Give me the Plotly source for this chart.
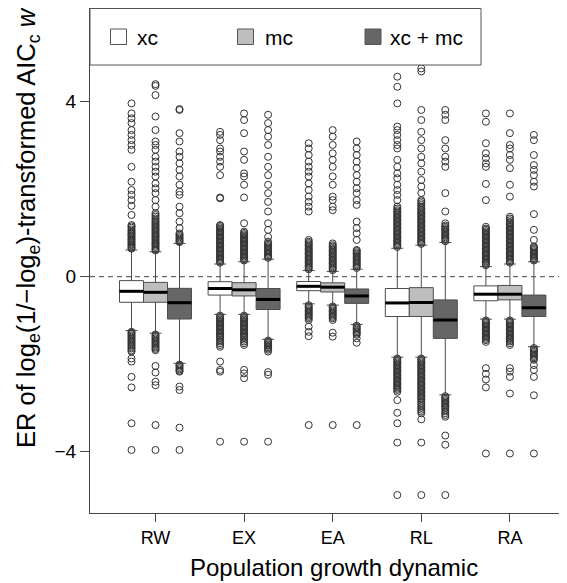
import plotly.graph_objects as go

# ---------------- data ----------------
categories = ["RW", "EX", "EA", "RL", "RA"]
series = ["xc", "mc", "xc + mc"]

xc_q1 = [-0.585, -0.42, -0.32, -0.91, -0.55]
xc_median = [-0.334, -0.27, -0.22, -0.60, -0.40]
xc_q3 = [-0.09, -0.114, -0.11, -0.27, -0.21]
xc_lower = [-1.23, -0.86, -0.62, -1.84, -0.97]
xc_upper = [0.61, 0.29, 0.14, 0.65, 0.23]

mc_q1 = [-0.585, -0.44, -0.35, -0.91, -0.53]
mc_median = [-0.357, -0.30, -0.24, -0.59, -0.40]
mc_q3 = [-0.13, -0.137, -0.14, -0.25, -0.20]
mc_lower = [-1.29, -0.86, -0.65, -1.84, -0.97]
mc_upper = [0.57, 0.34, 0.12, 0.72, 0.29]

xcmc_q1 = [-0.967, -0.75, -0.61, -1.41, -0.91]
xcmc_median = [-0.594, -0.52, -0.44, -0.99, -0.71]
xcmc_q3 = [-0.266, -0.27, -0.28, -0.53, -0.42]
xcmc_lower = [-1.98, -1.43, -1.09, -2.70, -1.60]
xcmc_upper = [0.76, 0.40, 0.17, 0.78, 0.34]

# outlying points, one list per category
xc_outliers = [
    [0.64, 0.66, 0.69, 0.72, 0.74, 0.77, 0.80, 0.83, 0.85, 0.88, 0.91, 0.94, 0.97, 0.99, 1.02, 1.05, 1.08,
     1.12, 1.15, 1.18,
     1.41, 1.62, 1.75, 1.87, 1.98, 2.17, 2.51, 2.90, 3.01, 3.12, 3.24, 3.35, 3.51, 3.62, 3.73, 3.96,
     -1.26, -1.28, -1.31, -1.34, -1.37, -1.40, -1.43, -1.46, -1.49, -1.52, -1.55, -1.58, -1.61, -1.64,
     -1.68, -1.71,
     -1.87, -1.94, -2.29, -2.53, -3.35, -3.96],
    [0.32, 0.35, 0.38, 0.41, 0.44, 0.47, 0.50, 0.53, 0.56, 0.59, 0.62, 0.65, 0.68, 0.71, 0.74, 0.77, 0.80,
     0.83, 0.86, 0.89, 0.92, 0.95, 0.98, 1.01, 1.04, 1.07, 1.10, 1.13, 1.16, 1.18,
     1.79, 1.81, 2.32, 2.51, 2.63, 2.74, 2.86, 2.93, 3.12, 3.24, 3.31,
     -0.89, -0.92, -0.95, -0.98, -1.01, -1.04, -1.07, -1.10, -1.13, -1.16, -1.19, -1.22, -1.25, -1.28,
     -1.31, -1.34, -1.37, -1.40, -1.44, -1.48, -1.52, -1.56, -1.60,
     -1.94, -2.13, -2.17, -3.77],
    [0.17, 0.20, 0.23, 0.26, 0.29, 0.32, 0.35, 0.38, 0.41, 0.44, 0.47, 0.50, 0.53, 0.56, 0.59, 0.62, 0.65,
     0.68, 0.71, 0.74, 0.77, 0.80, 0.84,
     1.49, 1.60, 1.71, 1.83, 1.98, 2.13, 2.29, 2.40, 2.51, 2.63, 2.78, 2.93, 3.05,
     -0.65, -0.68, -0.71, -0.74, -0.77, -0.80, -0.83, -0.86, -0.89, -0.92, -0.95, -0.99,
     -1.14, -1.26, -1.36, -3.39],
    [0.68, 0.71, 0.74, 0.77, 0.80, 0.83, 0.86, 0.89, 0.92, 0.95, 0.98, 1.01, 1.04, 1.07, 1.10, 1.13, 1.16,
     1.19, 1.22, 1.25, 1.28, 1.31, 1.34, 1.37, 1.40, 1.43, 1.46, 1.49, 1.52, 1.56, 1.60,
     1.75, 1.87, 1.98, 2.10, 2.25, 2.36, 2.51, 2.67, 2.93, 3.01, 3.12, 3.24, 3.35, 3.43, 3.96, 4.34, 4.57,
     -1.87, -1.90, -1.93, -1.96, -1.99, -2.02, -2.05, -2.08, -2.11, -2.14, -2.17, -2.20, -2.23, -2.26,
     -2.29, -2.32, -2.35, -2.38, -2.41, -2.44, -2.47, -2.50, -2.53, -2.56, -2.59, -2.63,
     -2.82, -3.11, -3.35, -3.79, -4.99],
    [0.26, 0.29, 0.32, 0.35, 0.38, 0.41, 0.44, 0.47, 0.50, 0.53, 0.56, 0.59, 0.62, 0.65, 0.68, 0.71, 0.74,
     0.77, 0.80, 0.83, 0.86, 0.89, 0.92, 0.95, 0.98, 1.01, 1.04, 1.07, 1.10, 1.14,
     1.75, 2.12, 2.51, 2.59, 2.71, 2.82, 3.05, 3.54, 3.73,
     -1.00, -1.03, -1.06, -1.09, -1.12, -1.15, -1.18, -1.21, -1.24, -1.27, -1.30, -1.33, -1.36, -1.39,
     -1.42, -1.45, -1.49,
     -2.09, -2.22, -2.35, -2.53, -4.04],
]

mc_outliers = [
    [0.60, 0.62, 0.65, 0.68, 0.71, 0.74, 0.76, 0.79, 0.82, 0.85, 0.88, 0.91, 0.93, 0.96, 0.99, 1.02, 1.05,
     1.08, 1.11, 1.14, 1.17, 1.20, 1.23, 1.26, 1.29, 1.33, 1.37, 1.41, 1.45,
     1.60, 1.75, 1.91, 2.02, 2.13, 2.29, 2.40, 2.51, 2.63, 2.74, 2.90, 3.01, 3.09, 3.35, 3.66, 4.15, 4.36, 4.40,
     -1.32, -1.35, -1.38, -1.41, -1.44, -1.47, -1.50, -1.53, -1.56, -1.59, -1.62, -1.65, -1.68,
     -2.04, -2.19, -2.40, -2.48, -3.39, -3.96],
    [0.37, 0.40, 0.43, 0.46, 0.49, 0.52, 0.55, 0.58, 0.61, 0.64, 0.67, 0.70, 0.73, 0.76, 0.79, 0.82, 0.85,
     0.88, 0.91, 0.94, 0.97, 1.00, 1.03,
     1.22, 1.81, 2.10, 2.29, 2.36, 2.67, 2.86, 3.28, 3.58, 3.73,
     -0.89, -0.92, -0.95, -0.98, -1.01, -1.04, -1.07, -1.10, -1.13, -1.16, -1.19, -1.22, -1.25, -1.28,
     -1.31, -1.34, -1.37, -1.40, -1.44, -1.48, -1.52, -1.56,
     -2.13, -2.21, -2.32, -3.77],
    [0.15, 0.18, 0.21, 0.24, 0.27, 0.30, 0.33, 0.36, 0.39, 0.42, 0.45, 0.48, 0.51, 0.54, 0.57, 0.60, 0.63,
     0.66, 0.69, 0.72, 0.76,
     1.52, 1.60, 1.75, 1.83, 2.10, 2.29, 2.51, 2.67, 2.82, 3.01, 3.20, 3.35,
     -0.68, -0.71, -0.74, -0.77, -0.80, -0.83, -0.86, -0.89, -0.92, -0.95, -0.99,
     -1.28, -1.37, -3.39],
    [0.75, 0.78, 0.81, 0.84, 0.87, 0.90, 0.93, 0.96, 0.99, 1.02, 1.05, 1.08, 1.11, 1.14, 1.17, 1.20, 1.23,
     1.26, 1.29, 1.32, 1.35, 1.38, 1.41, 1.44, 1.47, 1.50, 1.53, 1.56, 1.60, 1.64, 1.68, 1.72, 1.75,
     1.91, 2.06, 2.21, 2.40, 2.59, 2.74, 2.93, 3.12, 3.31, 3.58, 3.81, 4.69, 4.76,
     -1.87, -1.90, -1.93, -1.96, -1.99, -2.02, -2.05, -2.08, -2.11, -2.14, -2.17, -2.20, -2.23, -2.26,
     -2.29, -2.32, -2.35, -2.38, -2.41, -2.44, -2.47, -2.50, -2.53, -2.56, -2.59, -2.62, -2.65, -2.68,
     -2.71, -2.74, -2.77, -2.80, -2.84, -2.88, -2.92, -2.96, -3.00, -3.04, -3.08, -3.12,
     -3.26, -3.79, -4.99],
    [0.32, 0.35, 0.38, 0.41, 0.44, 0.47, 0.50, 0.53, 0.56, 0.59, 0.62, 0.65, 0.68, 0.71, 0.74, 0.77, 0.80,
     0.83, 0.86, 0.89, 0.92, 0.95, 0.98, 1.01, 1.04, 1.07, 1.10, 1.13, 1.16, 1.19, 1.22, 1.25, 1.29, 1.33,
     1.37,
     1.83, 2.10, 2.48, 2.67, 2.78, 2.93, 3.01, 3.28, 3.73,
     -1.00, -1.03, -1.06, -1.09, -1.12, -1.15, -1.18, -1.21, -1.24, -1.27, -1.30, -1.33, -1.36, -1.39,
     -1.42, -1.45, -1.48, -1.52, -1.56,
     -2.09, -2.17, -2.29, -2.67, -4.04],
]

xcmc_outliers = [
    [0.79, 0.81, 0.84, 0.87, 0.90, 0.93, 0.96, 0.99,
     1.11, 1.26, 1.45, 1.60, 1.87, 1.94, 2.10, 2.29, 2.44, 2.59, 2.74, 2.86, 3.09, 3.28, 3.81, 3.83,
     -2.01, -2.03, -2.06, -2.09, -2.12, -2.15, -2.17,
     -2.51, -2.59, -3.45, -3.96],
    [0.43, 0.46, 0.49, 0.52, 0.55, 0.58, 0.61, 0.64, 0.67, 0.70, 0.73, 0.76, 0.80,
     0.91, 1.07, 1.22, 1.49, 1.71, 1.91, 2.10, 2.32, 2.51, 2.74, 3.01, 3.20, 3.35, 3.51, 3.70,
     -1.46, -1.49, -1.52, -1.55, -1.58, -1.61, -1.64, -1.67, -1.71,
     -2.18, -2.24, -3.77],
    [0.20, 0.23, 0.26, 0.29, 0.32, 0.35, 0.38, 0.41, 0.44, 0.47, 0.50, 0.53, 0.56, 0.59, 0.61,
     0.84, 0.99, 1.11, 1.26, 1.64, 1.75, 1.91, 2.02, 2.17, 2.32, 2.48, 2.63, 2.78, 2.93, 3.09,
     -1.12, -1.15, -1.18, -1.21, -1.24, -1.27, -1.30, -1.33,
     -1.41, -1.51, -3.39],
    [0.81, 0.84, 0.87, 0.90, 0.93, 0.96, 0.99, 1.02, 1.05, 1.08, 1.11, 1.14, 1.17, 1.22,
     1.49, 1.91, 2.51, 2.63, 2.74, 2.93, 3.12, 3.58, 3.70, 3.81,
     -2.73, -2.76, -2.79, -2.82, -2.85, -2.88, -2.91, -2.94, -2.97, -3.00, -3.04, -3.08, -3.12, -3.16, -3.20,
     -3.63, -3.84, -4.99],
    [0.37, 0.40, 0.43, 0.46, 0.49, 0.52, 0.55, 0.58, 0.61, 0.64, 0.67, 0.69,
     0.84, 1.07, 1.43, 2.06, 2.17, 2.32, 2.44, 2.55, 2.78, 3.12, 3.24,
     -1.63, -1.66, -1.69, -1.72, -1.75, -1.78, -1.81, -1.84, -1.87, -1.90,
     -2.02, -2.13, -2.29, -2.71, -4.04],
]

y_tick_values = [-4, 0, 4]
y_tick_labels = ["\u22124", "0", "4"]

# ---------------- layout constants ----------------
OFF = 8                      # page body margin (the figure starts at 8,8 on screen)
W, H = 567 - OFF, 583 - OFF  # figure size
P_LEFT, P_RIGHT, P_TOP, P_BOTTOM = 90, 567, 8, 513   # plot area, screen pixels
ML, MR, MT = P_LEFT - OFF, W - (P_RIGHT - OFF), P_TOP - OFF
MB = H - (P_BOTTOM - OFF)
PW, PH = W - ML - MR, H - MT - MB

GROUP_PX = 88.6
BOX_PX = 24.0
FIRST_PX = 155.5
box_w = BOX_PX / GROUP_PX
x_range = [(P_LEFT - FIRST_PX) / GROUP_PX, (P_RIGHT - FIRST_PX) / GROUP_PX]
y_range = [-5.40, 6.14]

def px_x(p):
    return (p - P_LEFT) / PW

def px_y(p):
    return (P_BOTTOM - p) / PH

fills = {"xc": "#FFFFFF", "mc": "#BEBEBE", "xc + mc": "#666666"}
edge = "#4d4d4d"
stats = {
    "xc": (xc_q1, xc_median, xc_q3, xc_lower, xc_upper, xc_outliers),
    "mc": (mc_q1, mc_median, mc_q3, mc_lower, mc_upper, mc_outliers),
    "xc + mc": (xcmc_q1, xcmc_median, xcmc_q3, xcmc_lower, xcmc_upper, xcmc_outliers),
}

fig = go.Figure()

for j, s in enumerate(series):
    q1, med, q3, lo, hi, outs = stats[s]
    xs = [i + (j - 1) * box_w for i in range(len(categories))]
    ox, oy = [], []
    for x, vals in zip(xs, outs):
        ox += [x] * len(vals)
        oy += vals
    fig.add_trace(go.Scatter(
        x=ox, y=oy, mode="markers", showlegend=False, hoverinfo="skip",
        marker=dict(symbol="circle-open", size=7, color="#333333", line=dict(width=1)),
    ))
    fig.add_trace(go.Box(
        x=xs, q1=q1, median=med, q3=q3, lowerfence=lo, upperfence=hi,
        width=box_w, boxpoints=False, whiskerwidth=0.5,
        fillcolor=fills[s], line=dict(color=edge, width=1), name=s, showlegend=False,
    ))
    mx, my = [], []
    for x, m in zip(xs, med):
        mx += [x - box_w / 2, x + box_w / 2, None]
        my += [m, m, None]
    fig.add_trace(go.Scatter(
        x=mx, y=my, mode="lines", showlegend=False, hoverinfo="skip",
        line=dict(color="black", width=3),
    ))

shapes = [
    dict(type="line", xref="paper", yref="y", x0=0, x1=1, y0=0, y1=0,
         line=dict(color="#444444", width=1, dash="5px,4px"), layer="below"),
    dict(type="rect", xref="paper", yref="paper", x0=px_x(90), x1=px_x(481),
         y0=px_y(65), y1=px_y(8.5), fillcolor="white", line=dict(color="#555555", width=1)),
]
annotations = []
legend_sq = [110.5, 237.5, 365.0]
legend_tx = [135.0, 262.5, 387.5]
for s, sx, tx in zip(series, legend_sq, legend_tx):
    shapes.append(dict(type="rect", xref="paper", yref="paper", x0=px_x(sx), x1=px_x(sx + 16),
                       y0=px_y(44.5), y1=px_y(29), fillcolor=fills[s],
                       line=dict(color="#555555", width=1)))
    annotations.append(dict(xref="paper", yref="paper", x=px_x(tx), y=px_y(37),
                            text=s, showarrow=False, xanchor="left", yanchor="middle",
                            font=dict(size=21, color="black")))

annotations.append(dict(xref="paper", yref="paper", x=px_x(334), y=px_y(567),
                        text="Population growth dynamic", showarrow=False,
                        xanchor="center", yanchor="middle", font=dict(size=24, color="black")))
annotations.append(dict(xref="paper", yref="paper", x=px_x(28), y=px_y(228),
                        text="ER of log<sub>e</sub>(1/\u2212log<sub>e</sub>)-transformed AIC<sub>c</sub> <i>w</i>",
                        showarrow=False, textangle=-90, xanchor="center", yanchor="middle",
                        font=dict(size=25.5, color="black")))

fig.update_layout(
    width=W, height=H,
    margin=dict(l=ML, r=MR, t=MT, b=MB, pad=0),
    paper_bgcolor="white", plot_bgcolor="white",
    font=dict(family="Liberation Sans, Arial, sans-serif", color="black"),
    showlegend=False,
    shapes=shapes, annotations=annotations,
    xaxis=dict(range=x_range, tickvals=list(range(len(categories))), ticktext=categories,
               showgrid=False, zeroline=False, showline=True, linecolor="#444444", linewidth=1,
               ticks="outside", ticklen=8, tickcolor="#444444", tickfont=dict(size=18)),
    yaxis=dict(range=y_range, tickvals=y_tick_values, ticktext=y_tick_labels,
               showgrid=False, zeroline=False, showline=True, linecolor="#444444", linewidth=1,
               ticks="outside", ticklen=9, tickcolor="#444444", tickfont=dict(size=19)),
)

fig.write_html("out.html")
